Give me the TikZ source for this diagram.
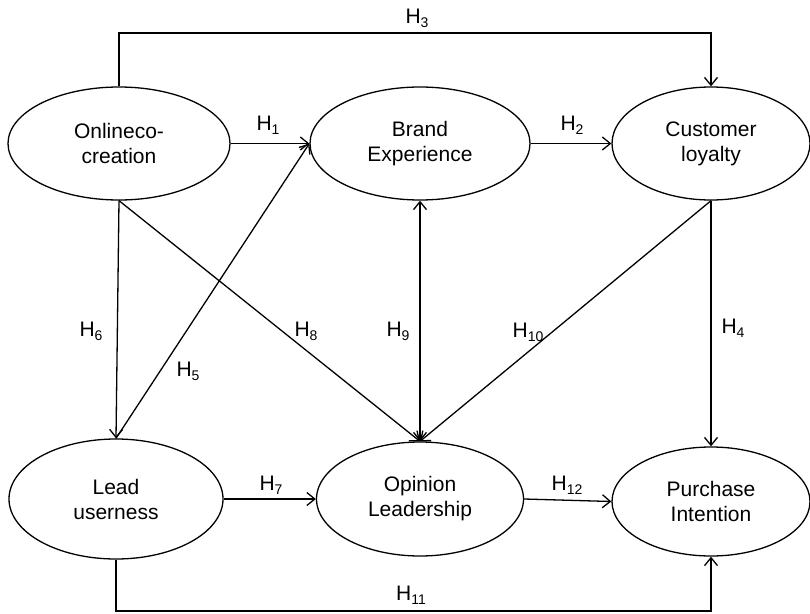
\documentclass[tikz,border=0pt]{standalone}
\usepackage{fontspec}
\setmainfont{Liberation Sans}
\usetikzlibrary{shapes.geometric,arrows.meta}
\newcommand{\hyp}[1]{H\raisebox{-4pt}{\fontsize{14}{14}\selectfont #1}}
\tikzset{
  var/.style={ellipse, draw, line width=1.3pt, inner sep=0pt, align=center,
    font=\fontsize{21}{25}\selectfont},
  arr/.style={line width=1.3pt, -{Straight Barb[length=8pt,width=13pt,line width=1.3pt]}},
  darr/.style={line width=1.3pt, {Straight Barb[length=8pt,width=13pt,line width=1.3pt]}-{Straight Barb[length=8pt,width=13pt,line width=1.3pt]}},
  hlab/.style={inner sep=0pt, font=\fontsize{21}{25}\selectfont}
}
\begin{document}
\begin{tikzpicture}[x=1pt,y=-1pt]
\useasboundingbox (0,0) rectangle (810,613);
\node[var, minimum width=222pt, minimum height=113pt] (oc) at (119,143.5) {Onlineco-\\creation};
\node[var, minimum width=220pt, minimum height=113pt] (be) at (420,143.5) {Brand\\Experience};
\node[var, minimum width=198pt, minimum height=113pt] (cl) at (711,143.5) {Customer\\loyalty};
\node[var, minimum width=214pt, minimum height=120pt] (lu) at (116,499) {Lead\\userness};
\node[var, minimum width=207pt, minimum height=114pt] (ol) at (420,499) {Opinion\\Leadership};
\node[var, minimum width=198pt, minimum height=109pt] (pi) at (711,501.5) {Purchase\\Intention};
\coordinate (top) at (0,33);
\coordinate (bot) at (0,611);
\draw[arr] (oc.north) -- (oc.north |- top) -| (cl.north);
\draw[arr] (oc.east) -- (be.west);
\draw[arr] (be.east) -- (cl.west);
\draw[arr] (cl.south) -- (pi.north);
\draw[arr] (oc.south) -- (lu.north);
\draw[arr] (lu.north) -- (be.west);
\draw[arr] (oc.south) -- (ol.north);
\draw[darr] (ol.north) -- (be.south);
\draw[arr] (cl.south) -- (ol.north);
\draw[arr] (lu.east) -- (ol.west);
\draw[arr] (ol.east) -- (pi.west);
\draw[arr] (lu.south) -- (lu.south |- bot) -| (pi.south);
\node[hlab] (l3) at (417,18) {\hyp{3}};
\node[hlab] (l1) at (268,125) {\hyp{1}};
\node[hlab] (l2) at (572,125) {\hyp{2}};
\node[hlab] (l6) at (91,331) {\hyp{6}};
\node[hlab] (l5) at (188,371) {\hyp{5}};
\node[hlab] (l8) at (306,331) {\hyp{8}};
\node[hlab] (l9) at (398,331) {\hyp{9}};
\node[hlab] (l10) at (528,332) {\hyp{10}};
\node[hlab] (l4) at (733,328) {\hyp{4}};
\node[hlab] (l7) at (271,485) {\hyp{7}};
\node[hlab] (l12) at (567,485) {\hyp{12}};
\node[hlab] (l11) at (411,595) {\hyp{11}};
\end{tikzpicture}
\end{document}
